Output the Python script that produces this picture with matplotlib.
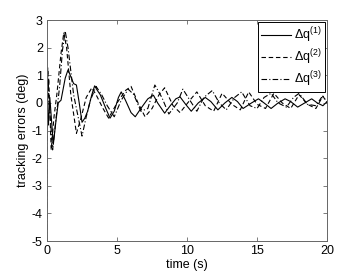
import numpy as np
import matplotlib
matplotlib.use("Agg")
import matplotlib.pyplot as plt

plt.rcParams['font.family'] = ['Liberation Sans', 'DejaVu Sans']
plt.rcParams['mathtext.fontset'] = 'custom'
plt.rcParams['mathtext.rm'] = 'Liberation Sans'
plt.rcParams['mathtext.it'] = 'Liberation Sans'
plt.rcParams['axes.unicode_minus'] = False

# Δq(1) - solid
t1 = [0, 0.1, 0.2, 0.45, 0.65, 0.8, 1.0, 1.3, 1.5, 1.7, 1.9, 2.1, 2.3, 2.5, 2.7, 2.9, 3.2, 3.4,
      3.6, 3.8, 4.2, 4.5, 4.8, 5.1, 5.3, 5.6, 6.0, 6.3, 6.7, 7.2, 7.6, 7.9, 8.4, 8.8, 9.2, 9.5,
      9.9, 10.3, 10.8, 11.3, 11.7, 12.2, 12.7, 13.2, 13.6, 14.0, 14.6, 15.1, 15.5, 16.0, 16.5,
      17.0, 17.4, 17.9, 18.4, 18.9, 19.3, 19.7, 20]
q1 = [0.3, -0.8, 0.2, -1.5, -0.6, 0.0, 0.1, 0.9, 1.2, 0.95, 0.7, 0.65, 0.0, -0.7, -0.55, -0.3, 0.3, 0.62,
      0.45, 0.3, -0.2, -0.55, -0.3, 0.2, 0.4, 0.1, -0.35, -0.5, -0.2, 0.15, 0.28, 0.0, -0.37, -0.1, 0.15, 0.22,
      -0.05, -0.3, 0.0, 0.2, 0.05, -0.25, 0.0, 0.2, 0.05, -0.2, 0.0, 0.15, 0.0, -0.2, 0.0,
      0.15, 0.05, -0.15, 0.0, 0.15, 0.0, -0.1, 0.05]

# Δq(2) - dashed
t2 = [0, 0.05, 0.12, 0.3, 0.5, 0.7, 1.0, 1.2, 1.4, 1.7, 2.1, 2.4, 2.8, 3.2, 3.5, 4.0, 4.4,
      5.0, 5.6, 6.0, 6.5, 7.0, 7.5, 8.0, 8.4, 9.0, 9.5, 10.2, 10.7, 11.3, 11.9, 12.5, 13.2,
      13.8, 14.4, 15.0, 15.6, 16.2, 16.8, 17.4, 18.0, 18.6, 19.2, 19.7, 20]
q2 = [1.3, -0.3, 0.9, -1.7, -0.5, 0.3, 1.8, 2.55, 2.0, 0.3, -1.1, -0.6, 0.2, 0.55, 0.3, -0.2, -0.55,
      0.0, 0.45, 0.6, 0.0, -0.5, -0.2, 0.3, 0.55, -0.1, -0.35, 0.1, 0.4, -0.1, -0.3, 0.35, -0.05,
      -0.25, 0.4, -0.05, -0.2, 0.35, 0.0, -0.2, 0.3, -0.05, -0.2, 0.25, 0.0]

# Δq(3) - dash-dot
t3 = [0, 0.05, 0.15, 0.4, 0.7, 0.9, 1.1, 1.3, 1.5, 1.9, 2.5, 2.8, 3.1, 3.5, 3.9, 4.3, 4.8,
      5.3, 5.8, 6.2, 6.7, 7.2, 7.7, 8.2, 8.7, 9.3, 9.7, 10.2, 10.7, 11.2, 11.8, 12.3, 12.8,
      13.4, 13.9, 14.5, 15.0, 15.5, 16.0, 16.5, 17.1, 17.6, 18.0, 18.6, 19.2, 19.6, 20]
q3 = [-5.0, 1.3, 0.0, -1.7, -0.3, 0.6, 1.9, 2.6, 2.0, 0.3, -1.2, -0.5, 0.1, 0.6, 0.3, -0.1, -0.5,
      0.1, 0.5, 0.3, -0.3, -0.2, 0.65, 0.2, -0.4, 0.0, 0.5, 0.1, -0.3, 0.2, 0.45, 0.0, -0.25,
      0.2, 0.4, -0.1, -0.2, 0.2, 0.35, 0.0, -0.15, 0.2, 0.35, -0.05, -0.1, 0.2, 0.1]

fig = plt.figure(figsize=(3.6, 2.71), dpi=100)
ax = fig.add_axes([0.1306, 0.1107, 0.778, 0.815])

ax.plot(t1, q1, 'k-', lw=0.8, label=r'$\Delta$q$^{(1)}$')
ax.plot(t2, q2, 'k', ls=(0, (4, 2.5)), lw=0.8, label=r'$\Delta$q$^{(2)}$')
ax.plot(t3, q3, 'k', ls=(0, (5, 2, 1, 2)), lw=0.8, label=r'$\Delta$q$^{(3)}$')

ax.set_xlim(0, 20)
ax.set_ylim(-5, 3)
ax.set_xticks([0, 5, 10, 15, 20])
ax.set_yticks(range(-5, 4))
ax.tick_params(direction='in', top=True, right=True, labelsize=9, length=3,
               width=0.6, color='0.4', pad=3)
for s in ax.spines.values():
    s.set_color('0.4')
    s.set_linewidth(0.7)

ax.set_xlabel('time (s)', fontsize=9, labelpad=1)
ax.set_ylabel('tracking errors (deg)', fontsize=9, labelpad=2)

leg = ax.legend(loc='upper right', fontsize=9, fancybox=False, framealpha=1,
                edgecolor='k', handlelength=2.4, borderaxespad=0.15,
                labelspacing=0.2, handletextpad=0.3, borderpad=0.25)
leg.get_frame().set_linewidth(0.7)

fig.savefig('out.png', dpi=100)
